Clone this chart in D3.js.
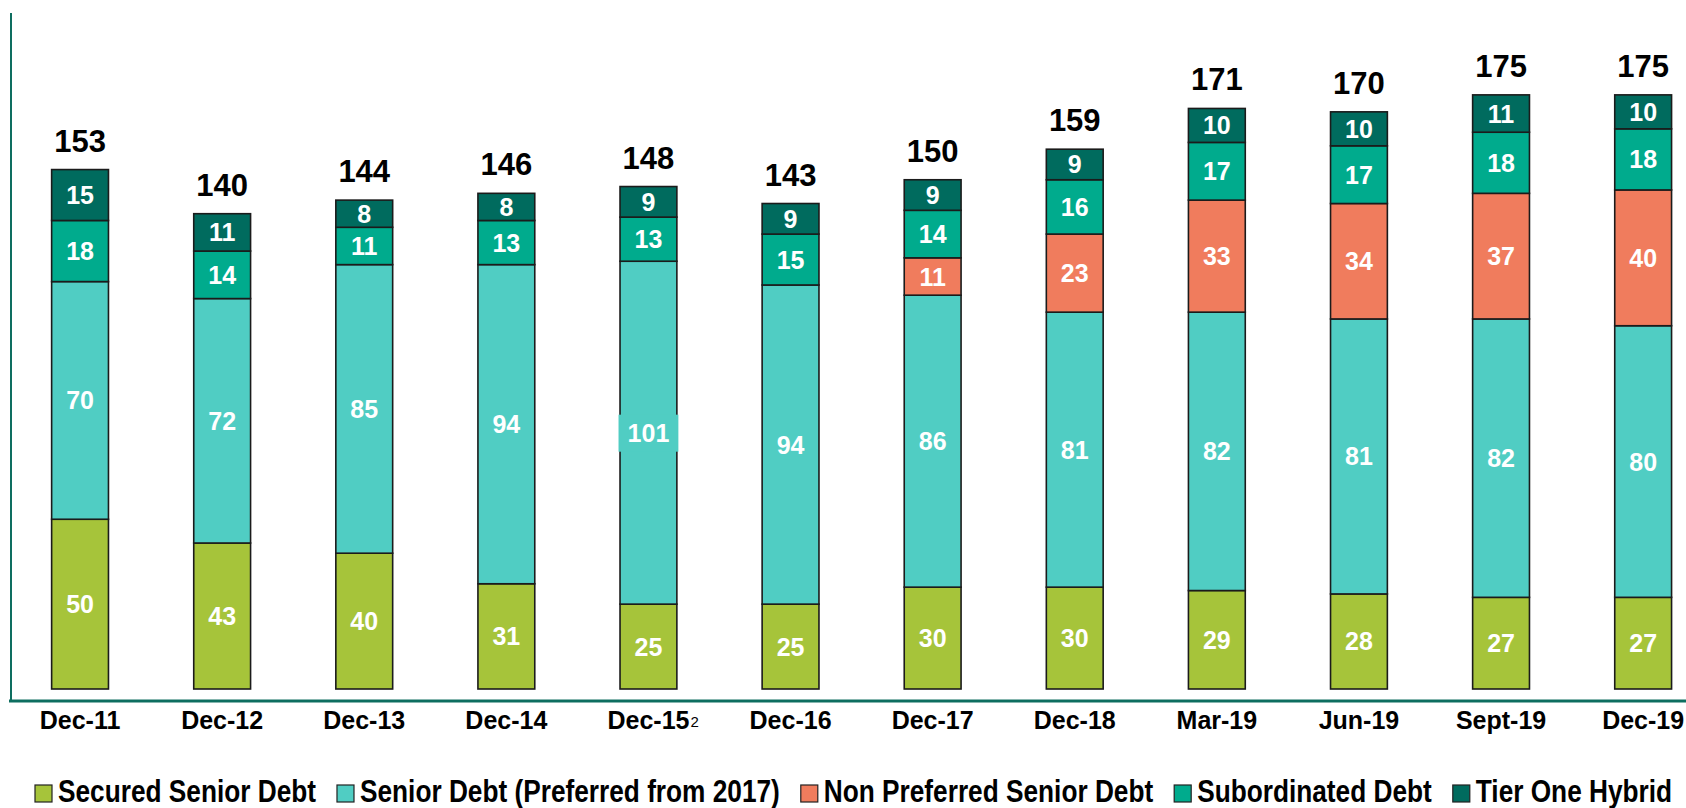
<!DOCTYPE html>
<html>
<head>
<meta charset="utf-8">
<script src="https://cdn.jsdelivr.net/npm/d3@7"></script>
<style>
  html, body { margin: 0; padding: 0; background: #ffffff; }
  svg { display: block; }
  text { font-family: "Liberation Sans", Arial, sans-serif; }
</style>
</head>
<body>
<svg id="chart" width="1686" height="808"></svg>
<script>
// ---- Data ----
const categories = ["Dec-11","Dec-12","Dec-13","Dec-14","Dec-15","Dec-16","Dec-17","Dec-18","Mar-19","Jun-19","Sept-19","Dec-19"];
const footnotes  = ["","","","","2","","","","","","",""];
const seriesNames = ["Secured Senior Debt","Senior Debt (Preferred from 2017)","Non Preferred Senior Debt","Subordinated Debt","Tier One Hybrid"];
const securedSenior   = [50,43,40,31,25,25,30,30,29,28,27,27];
const seniorPreferred = [70,72,85,94,101,94,86,81,82,81,82,80];
const nonPreferred    = [0,0,0,0,0,0,11,23,33,34,37,40];
const subordinated    = [18,14,11,13,13,15,14,16,17,17,18,18];
const tierOne         = [15,11,8,8,9,9,9,9,10,10,11,10];
const totals          = [153,140,144,146,148,143,150,159,171,170,175,175];
const seriesColors = ["#a6c43a","#50cdc3","#f07c5d","#00ab8d","#006b5e"];

// ---- Build table ----
const seriesArrays = [securedSenior, seniorPreferred, nonPreferred, subordinated, tierOne];
const table = categories.map((c, i) => {
  const row = { cat: c, total: totals[i], note: footnotes[i] };
  seriesNames.forEach((s, k) => row[s] = seriesArrays[k][i]);
  return row;
});
const stacked = d3.stack().keys(seriesNames)(table);

const svg = d3.select("#chart");
const W = 1686, H = 808;

const x = d3.scaleBand().domain(categories).range([9, 9 + 12 * 142.1]).paddingInner(0.6).paddingOuter(0.3);
const y = d3.scaleLinear().domain([0, 200]).range([689, 689 - 200 * 3.395]);
const color = d3.scaleOrdinal().domain(seriesNames).range(seriesColors);

const axisColor = "#0e6e60";

// Bars
const layers = svg.append("g").selectAll("g").data(stacked).join("g")
  .attr("fill", d => color(d.key));

layers.selectAll("rect").data(d => d.map(p => ({p, key: d.key}))).join("rect")
  .filter(d => d.p[1] - d.p[0] > 0)
  .attr("x", d => x(d.p.data.cat))
  .attr("y", d => y(d.p[1]))
  .attr("width", x.bandwidth())
  .attr("height", d => y(d.p[0]) - y(d.p[1]))
  .attr("stroke", "#1b1b1b")
  .attr("stroke-width", 1.6);

// Segment labels
const labelG = svg.append("g");
stacked.forEach(layer => {
  layer.forEach(p => {
    const v = p[1] - p[0];
    if (v <= 0) return;
    const cx = x(p.data.cat) + x.bandwidth() / 2;
    const cy = (y(p[0]) + y(p[1])) / 2;
    const txt = String(v);
    if (txt.length >= 3) {
      labelG.append("rect")
        .attr("x", x(p.data.cat) - 1.5)
        .attr("y", cy - 18)
        .attr("width", x.bandwidth() + 3)
        .attr("height", 37)
        .attr("fill", color(layer.key));
    }
    labelG.append("text")
      .attr("x", cx)
      .attr("y", cy + 9)
      .attr("text-anchor", "middle")
      .attr("fill", "#ffffff")
      .attr("font-weight", "bold")
      .attr("font-size", 25)
      .text(txt);
  });
});

// Total labels
svg.append("g").selectAll("text").data(table).join("text")
  .attr("x", d => x(d.cat) + x.bandwidth() / 2)
  .attr("y", d => y(d3.sum(seriesNames, s => d[s])) - 18)
  .attr("text-anchor", "middle")
  .attr("font-weight", "bold")
  .attr("font-size", 31)
  .attr("fill", "#000")
  .text(d => d.total);

// Axes lines
svg.append("line")
  .attr("x1", 11).attr("x2", 11).attr("y1", 13).attr("y2", 701)
  .attr("stroke", axisColor).attr("stroke-width", 2);

const xAxis = svg.append("g")
  .attr("transform", "translate(0,701)")
  .call(d3.axisBottom(x).tickSize(0));
xAxis.select(".domain").remove();
xAxis.selectAll("text")
  .attr("y", 28).attr("dy", 0)
  .attr("font-family", "Liberation Sans, Arial, sans-serif")
  .attr("font-weight", "bold")
  .attr("font-size", 25)
  .attr("fill", "#000");
svg.append("line")
  .attr("x1", 9).attr("x2", W).attr("y1", 701).attr("y2", 701)
  .attr("stroke", axisColor).attr("stroke-width", 3);

// Footnote superscripts
xAxis.selectAll(".tick").each(function(d) {
  const note = footnotes[categories.indexOf(d)];
  if (!note) return;
  const t = d3.select(this).select("text").node();
  const bb = t.getBBox();
  d3.select(this).append("text")
    .attr("x", bb.x + bb.width + 1)
    .attr("y", 26)
    .attr("text-anchor", "start")
    .attr("font-family", "Liberation Sans, Arial, sans-serif")
    .attr("font-size", 15)
    .attr("fill", "#000")
    .text(note);
});

// Legend
function measure(family, str) {
  const t = svg.append("text").attr("font-family", family).attr("font-weight", "bold")
    .attr("font-size", 32).text(str);
  const w = t.node().getComputedTextLength();
  t.remove();
  return w;
}
const probe = "Secured Senior Debt";
const wNarrow = measure("'Liberation Sans Narrow'", probe);
const wNormal = measure("'Liberation Sans'", probe);
const narrowOK = wNarrow < wNormal * 0.9;
const legendFamily = narrowOK ? "'Liberation Sans Narrow', 'Arial Narrow', sans-serif" : "'Liberation Sans', Arial, sans-serif";
const squeeze = narrowOK ? 1 : 0.82;

const legend = svg.append("g");
let lx = 35;
seriesNames.forEach((name, k) => {
  legend.append("rect")
    .attr("x", lx).attr("y", 785).attr("width", 17).attr("height", 17)
    .attr("fill", seriesColors[k]).attr("stroke", "#222").attr("stroke-width", 1.2);
  const tx = lx + 23;
  const t = legend.append("text")
    .attr("transform", `translate(${tx},802) scale(${squeeze},1)`)
    .attr("font-family", legendFamily)
    .attr("font-weight", "bold")
    .attr("font-size", 32)
    .attr("fill", "#000")
    .text(name);
  const w = t.node().getComputedTextLength() * squeeze;
  lx = tx + w + 21;
});
</script>
</body>
</html>
